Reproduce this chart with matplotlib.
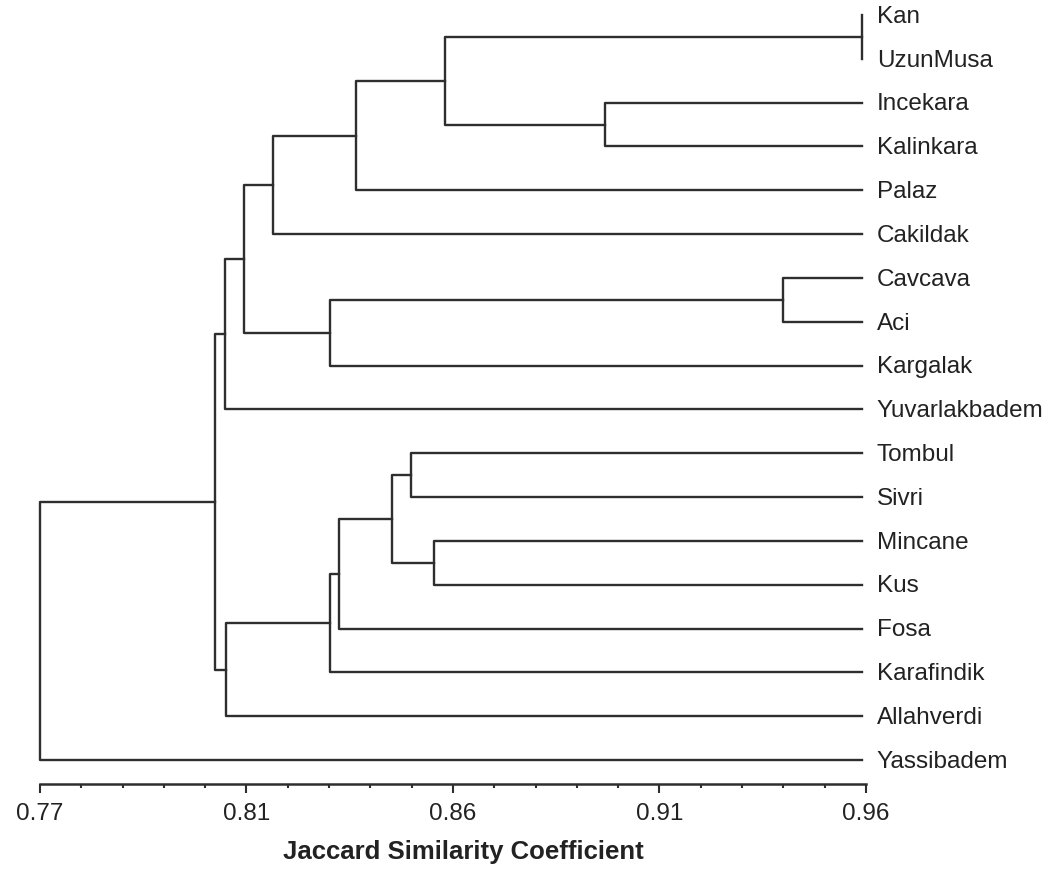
import numpy as np
import matplotlib.pyplot as plt

# leaves, top to bottom
leaves = ['Kan', 'UzunMusa', 'Incekara', 'Kalinkara', 'Palaz', 'Cakildak',
          'Cavcava', 'Aci', 'Kargalak', 'Yuvarlakbadem', 'Tombul', 'Sivri',
          'Mincane', 'Kus', 'Fosa', 'Karafindik', 'Allahverdi', 'Yassibadem']

# merges: (child a, child b, similarity); new clusters numbered from len(leaves)
merge_a = [0, 6, 2, 12, 18, 10, 23, 22, 24, 19, 26, 25, 29, 28, 30, 32, 33]
merge_b = [1, 7, 3, 13, 20, 11, 21, 4, 14, 8, 15, 5, 27, 16, 9, 31, 17]
merge_sim = [0.959, 0.941, 0.900, 0.8606, 0.8632, 0.8553, 0.8510, 0.8427,
             0.8388, 0.8367, 0.8367, 0.8236, 0.8169, 0.8128, 0.8126, 0.8103,
             0.770]

tick_pos = np.linspace(0.77, 0.96, 5)
tick_labels = ['0.77', '0.81', '0.86', '0.91', '0.96']

line_col = '#2e2e2e'
txt_col = '#222222'


def main():
    plt.rcParams['font.family'] = ['Liberation Sans', 'DejaVu Sans']
    fig = plt.figure(figsize=(10.47, 8.72), dpi=100)
    ax = fig.add_axes([40 / 1047, 88 / 872, 826 / 1047, 784 / 872])

    n = len(leaves)
    node_x = {i: 0.959 for i in range(n)}
    node_y = {i: float(n - 1 - i) for i in range(n)}

    for k in range(len(merge_a)):
        a, b, h = merge_a[k], merge_b[k], merge_sim[k]
        ax.plot([node_x[a], h, h, node_x[b]],
                [node_y[a], node_y[a], node_y[b], node_y[b]],
                color=line_col, lw=1.7, solid_joinstyle='round',
                clip_on=False)
        node_x[n + k] = h
        node_y[n + k] = (node_y[a] + node_y[b]) / 2

    for i, name in enumerate(leaves):
        ax.text(0.9625, node_y[i] - 0.04, name, ha='left', va='center',
                fontsize=17.5, color=txt_col)

    ax.set_xlim(0.77, 0.96)
    ax.set_ylim(-0.548, 17.342)

    for s in ['top', 'right', 'left']:
        ax.spines[s].set_visible(False)
    ax.spines['bottom'].set_bounds(0.77, 0.96)
    ax.spines['bottom'].set_linewidth(1.8)
    ax.spines['bottom'].set_color(line_col)

    ax.set_yticks([])
    ax.set_xticks(tick_pos)
    ax.set_xticklabels(tick_labels, fontsize=17.5, color=txt_col)
    ax.set_xticks(np.linspace(0.77, 0.96, 21), minor=True)
    ax.tick_params(axis='x', which='major', length=6.5, width=1.5,
                   color=line_col, pad=7)
    ax.tick_params(axis='x', which='minor', length=3, width=1.5,
                   color=line_col)

    ax.set_xlabel('Jaccard Similarity Coefficient', fontsize=18.5,
                  fontweight='bold', color=txt_col)
    ax.xaxis.set_label_coords(0.512, -0.072)

    fig.savefig('out.png', dpi=100)


if __name__ == '__main__':
    main()
